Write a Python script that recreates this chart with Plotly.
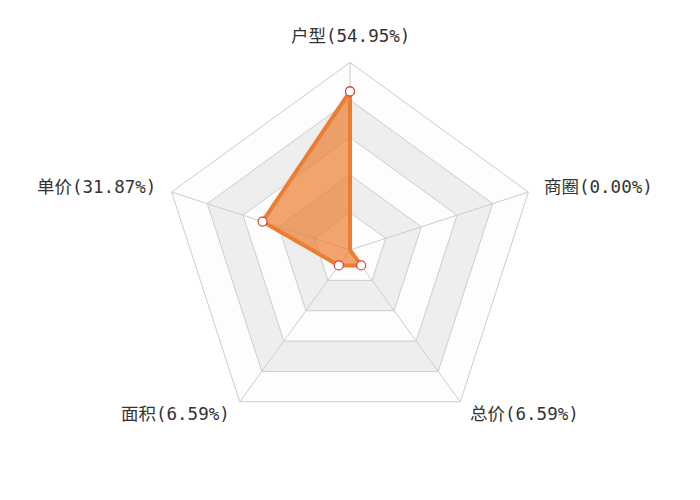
import math
import plotly.graph_objects as go

names = ["户型", "商圈", "总价", "面积", "单价"]
values = [54.95, 0.00, 6.59, 6.59, 31.87]
axis_max = 65
levels = 5

labels = [f"{n}({v:.2f}%)" for n, v in zip(names, values)]

# geometry (pixels) of the radar; the page body adds an 8px offset
W, H = 700, 500
OFF = 8
CX, CY, RAD = 350, 250, 187.6
NAME_GAP = 15
PAD = 1.03  # small headroom so the outer ring is not clipped

fig = go.Figure()

step = axis_max / levels
closed = labels + [labels[0]]
band_colors = ["rgba(250,250,250,0.3)", "rgba(200,200,200,0.3)"]

# split areas (rings)
for i in range(levels):
    r_in = step * i
    r_out = step * (i + 1)
    th = closed + [labels[0]] + labels[::-1]
    rr = [r_out] * len(closed) + [r_in] + [r_in] * len(labels)
    fig.add_trace(go.Scatterpolar(
        r=rr, theta=th, mode="lines", fill="toself",
        fillcolor=band_colors[i % 2], line=dict(width=0),
        hoverinfo="skip", showlegend=False, cliponaxis=False))

# split lines
for i in range(1, levels + 1):
    fig.add_trace(go.Scatterpolar(
        r=[step * i] * len(closed), theta=closed, mode="lines",
        line=dict(color="#cccccc", width=1), hoverinfo="skip",
        showlegend=False, cliponaxis=False))

# axis spokes
for lab in labels:
    fig.add_trace(go.Scatterpolar(
        r=[0, axis_max], theta=[lab, lab], mode="lines",
        line=dict(color="#cccccc", width=1), hoverinfo="skip",
        showlegend=False, cliponaxis=False))

# data series
fig.add_trace(go.Scatterpolar(
    r=values + [values[0]], theta=closed, mode="lines+markers",
    fill="toself", fillcolor="rgba(237,125,49,0.7)",
    line=dict(color="#ed7d31", width=4),
    marker=dict(size=9, color="white", line=dict(color="#d9413a", width=1.2)),
    showlegend=False, cliponaxis=False))

label_font = dict(family="DejaVu Sans Mono, Noto Sans CJK SC", size=17.5, color="#333333")

# indicator names placed like ECharts radar names
n = len(labels)
for k, lab in enumerate(labels):
    ang = 2 * math.pi * k / n
    dx, dy = math.sin(ang), math.cos(ang)
    sx = CX + (RAD + NAME_GAP) * dx
    sy = CY - (RAD + NAME_GAP) * dy
    if abs(dx) < 1e-6:
        xa = "center"
        ya = "bottom" if dy > 0 else "top"
    else:
        xa = "left" if dx > 0 else "right"
        ya = "middle"
    fig.add_annotation(
        x=(sx - OFF) / W, y=(H - (sy - OFF)) / H, xref="paper", yref="paper",
        text=lab, showarrow=False, xanchor=xa, yanchor=ya,
        font=label_font, borderpad=0)

R_DOM = RAD * PAD
fig.update_layout(
    width=W, height=H,
    margin=dict(l=0, r=0, t=0, b=0),
    paper_bgcolor="white",
    font=label_font,
    polar=dict(
        domain=dict(x=[(CX - OFF - R_DOM) / W, (CX - OFF + R_DOM) / W],
                    y=[(H - (CY - OFF) - R_DOM) / H, (H - (CY - OFF) + R_DOM) / H]),
        gridshape="linear",
        bgcolor="rgba(0,0,0,0)",
        radialaxis=dict(range=[0, axis_max * PAD], visible=True, showticklabels=False,
                        showgrid=False, showline=False, ticks=""),
        angularaxis=dict(
            type="category", categoryarray=labels,
            rotation=90, direction="clockwise",
            showgrid=False, showline=False, ticks="", showticklabels=False,
        ),
    ),
)

fig.write_html("out.html")
